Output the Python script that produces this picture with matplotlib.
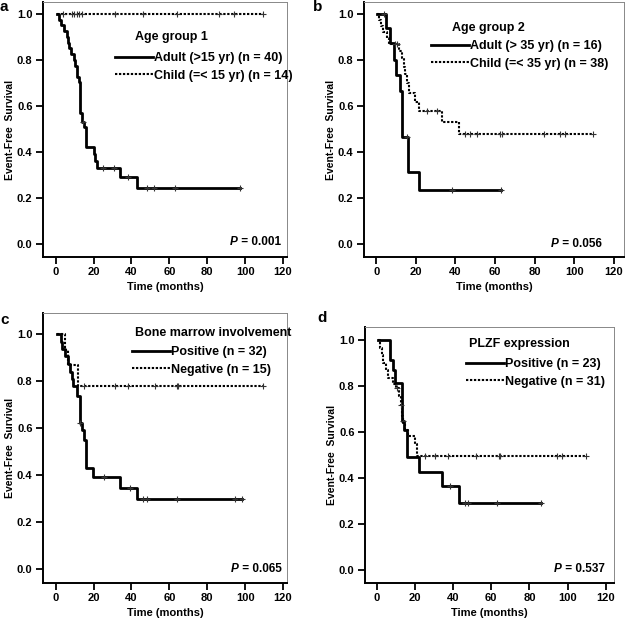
import matplotlib
matplotlib.use('Agg')
import matplotlib.pyplot as plt
import numpy as np

plt.rcParams['font.family'] = ['Liberation Sans', 'DejaVu Sans']
plt.rcParams['font.weight'] = 'bold'
plt.rcParams['axes.labelweight'] = 'bold'

# ---- panel a : age group 1 ----
a_adult_t = [0.5, 2.0, 3.0, 4.5, 6.0, 6.5, 7.0, 8.0, 9.5, 10.4, 11.0, 11.5, 12.3, 13.0, 14.0, 15.0, 16.0, 20.0, 21.0, 22.0, 34.0, 43.0]
a_adult_s = [1.0, 0.975, 0.95, 0.925, 0.9, 0.875, 0.85, 0.825, 0.8, 0.775, 0.75, 0.725, 0.705, 0.57, 0.53, 0.51, 0.42, 0.39, 0.36, 0.33, 0.29, 0.245]
a_adult_end = 97.5
a_adult_cens = [14.6, 25, 31, 38, 48, 52, 63, 97.5]
a_child_t = [0.5]
a_child_s = [1.0]
a_child_end = 109.5
a_child_cens = [4, 8.4, 9.7, 11.1, 12.3, 13.7, 31.3, 46.2, 64, 86, 94, 109.5]

# ---- panel b : age group 2 ----
b_adult_t = [0.3, 5.0, 7.0, 8.8, 9.8, 12.1, 13.0, 16.0, 21.4]
b_adult_s = [1.0, 0.9375, 0.875, 0.8, 0.733, 0.667, 0.467, 0.311, 0.233]
b_adult_end = 63
b_adult_cens = [4, 15.5, 38.5, 63]
b_child_t = [0.3, 1.2, 2.5, 3.5, 5.4, 6.5, 11.6, 13.0, 13.8, 14.7, 15.5, 16.3, 19.7, 21.4, 33.2, 41.6]
b_child_s = [1.0, 0.974, 0.947, 0.921, 0.895, 0.868, 0.84, 0.81, 0.77, 0.74, 0.70, 0.655, 0.618, 0.58, 0.53, 0.48]
b_child_end = 109.5
b_child_cens = [9.5, 10.5, 25.6, 30.7, 45, 47.5, 51, 62.7, 63.5, 84.6, 93, 95.5, 109.5]

# ---- panel c : bone marrow involvement ----
c_pos_t = [0.5, 2.6, 3.2, 4.9, 6.7, 7.6, 8.4, 9.3, 11.1, 12.8, 13.7, 15.0, 16.0, 19.9, 33.9, 43.0]
c_pos_s = [1.0, 0.967, 0.937, 0.906, 0.875, 0.84, 0.81, 0.78, 0.735, 0.623, 0.59, 0.551, 0.43, 0.39, 0.345, 0.295]
c_pos_end = 98.4
c_pos_cens = [13, 25.5, 39.2, 46.2, 48.3, 63.8, 94.5, 98.4]
c_neg_t = [0.5, 4.7, 6.5, 12.0]
c_neg_s = [1.0, 0.933, 0.867, 0.78]
c_neg_end = 109.5
c_neg_cens = [15.1, 31.3, 38.3, 52.4, 63.8, 64.5, 109.5]

# ---- panel d : PLZF expression ----
d_pos_t = [0.7, 7.0, 8.4, 9.7, 13.2, 14.0, 15.8, 22.0, 34.2, 43.3]
d_pos_s = [1.0, 0.913, 0.87, 0.815, 0.65, 0.61, 0.49, 0.425, 0.364, 0.291]
d_pos_end = 86
d_pos_cens = [13.5, 38.4, 46.3, 48, 63, 86]
d_neg_t = [0.5, 1.6, 2.5, 3.3, 4.6, 6.0, 8.6, 10.0, 11.6, 12.6, 13.2, 13.9, 14.6, 16.5, 20.0, 20.9]
d_neg_s = [1.0, 0.968, 0.935, 0.903, 0.87, 0.837, 0.81, 0.79, 0.757, 0.72, 0.67, 0.64, 0.611, 0.582, 0.546, 0.495]
d_neg_end = 109.5
d_neg_cens = [10.5, 12.8, 25.3, 30.5, 37.5, 52, 63.8, 64.3, 94.5, 97.2, 109.5]

W, H = 625, 622
fig = plt.figure(figsize=(W / 100, H / 100), dpi=100)


def fx(x):
    return x / W


def fy(y):
    return 1 - y / H


SOLID = dict(color='black', lw=2.0, ls='-')
DOTS = dict(color='black', lw=1.5, ls=(0, (1.1, 0.8)))


def km(ax, t, s, end, cens, style, label):
    tt = list(t) + [end]
    ss = list(s) + [s[-1]]
    ax.step(tt, ss, where='post', label=label, **style)
    idx = np.searchsorted(t, cens, side='right') - 1
    ax.plot(cens, np.array(s)[idx], ls='none', marker='+', ms=4.5, mew=0.8,
            color='#333333')


def panel(box, xlim, ylim):
    l, t, r, b = box
    ax = fig.add_axes([fx(l), fy(b), fx(r - l), (b - t) / H])
    ax.set_xlim(*xlim)
    ax.set_ylim(*ylim)
    ax.set_xticks(range(0, 121, 20))
    ax.set_yticks([0, 0.2, 0.4, 0.6, 0.8, 1.0])
    ax.set_yticklabels(['0.0', '0.2', '0.4', '0.6', '0.8', '1.0'])
    ax.tick_params(direction='out', length=5, width=1.3, labelsize=8, pad=2.5)
    for sp in ['left', 'bottom']:
        ax.spines[sp].set_linewidth(1.4)
    for sp in ['top', 'right']:
        ax.spines[sp].set_linewidth(0.7)
        ax.spines[sp].set_color('#888888')
    ax.set_xlabel('Time (months)', fontsize=8, labelpad=3)
    ax.set_ylabel('Event-Free  Survival', fontsize=7.5, labelpad=1.5)
    return ax


def annotate(ax, title, tpos, lpos, pval, ppos):
    fig.text(fx(tpos[0]), fy(tpos[1]), title, fontsize=9, va='center', ha='left')
    ax.legend(loc='upper left', bbox_to_anchor=(fx(lpos[0]), fy(lpos[1])),
              bbox_transform=fig.transFigure, frameon=False, fontsize=9,
              handlelength=3.0, handletextpad=0.15, labelspacing=0.45,
              borderpad=0, borderaxespad=0)
    tx = fig.text(fx(ppos[0]), fy(ppos[1]), ' = ' + pval, fontsize=8.5,
                  ha='right', va='center')
    ax.annotate('P', xy=(0, 0.5), xycoords=tx, ha='right', va='center',
                fontsize=8.5, style='italic', fontweight='bold')


# a
ax = panel((43, 2, 287, 257), (-6.7, 122.1), (-0.0565, 1.052))
km(ax, a_adult_t, a_adult_s, a_adult_end, a_adult_cens, SOLID, 'Adult (>15 yr) (n = 40)')
km(ax, a_child_t, a_child_s, a_child_end, a_child_cens, DOTS, 'Child (=< 15 yr) (n = 14)')
annotate(ax, 'Age group 1', (135, 37), (115, 52), '0.001', (281, 242))

# b
ax = panel((364, 2, 624, 257), (-6.2, 125.2), (-0.0565, 1.052))
km(ax, b_adult_t, b_adult_s, b_adult_end, b_adult_cens, SOLID, 'Adult (> 35 yr) (n = 16)')
km(ax, b_child_t, b_child_s, b_child_end, b_child_cens, DOTS, 'Child (=< 35 yr) (n = 38)')
annotate(ax, 'Age group 2', (452, 28), (431, 40), '0.056', (602, 244))

# c
ax = panel((43, 313, 287, 583), (-6.7, 122.1), (-0.0615, 1.091))
km(ax, c_pos_t, c_pos_s, c_pos_end, c_pos_cens, SOLID, 'Positive (n = 32)')
km(ax, c_neg_t, c_neg_s, c_neg_end, c_neg_cens, DOTS, 'Negative (n = 15)')
annotate(ax, 'Bone marrow involvement', (135, 333), (132, 346), '0.065', (282, 569))

# d
ax = panel((365, 327, 614, 583), (-6.3, 124.4), (-0.058, 1.058))
km(ax, d_pos_t, d_pos_s, d_pos_end, d_pos_cens, SOLID, 'Positive (n = 23)')
km(ax, d_neg_t, d_neg_s, d_neg_end, d_neg_cens, DOTS, 'Negative (n = 31)')
annotate(ax, 'PLZF expression', (469, 344), (466, 358), '0.537', (605, 569))

for letter, x, y in [('a', 0, 0), ('b', 313, 0), ('c', 0, 313), ('d', 317, 311)]:
    fig.text(fx(x), fy(y), letter, fontsize=11, fontweight='bold', va='top', ha='left')

fig.savefig('out.png', dpi=100)
